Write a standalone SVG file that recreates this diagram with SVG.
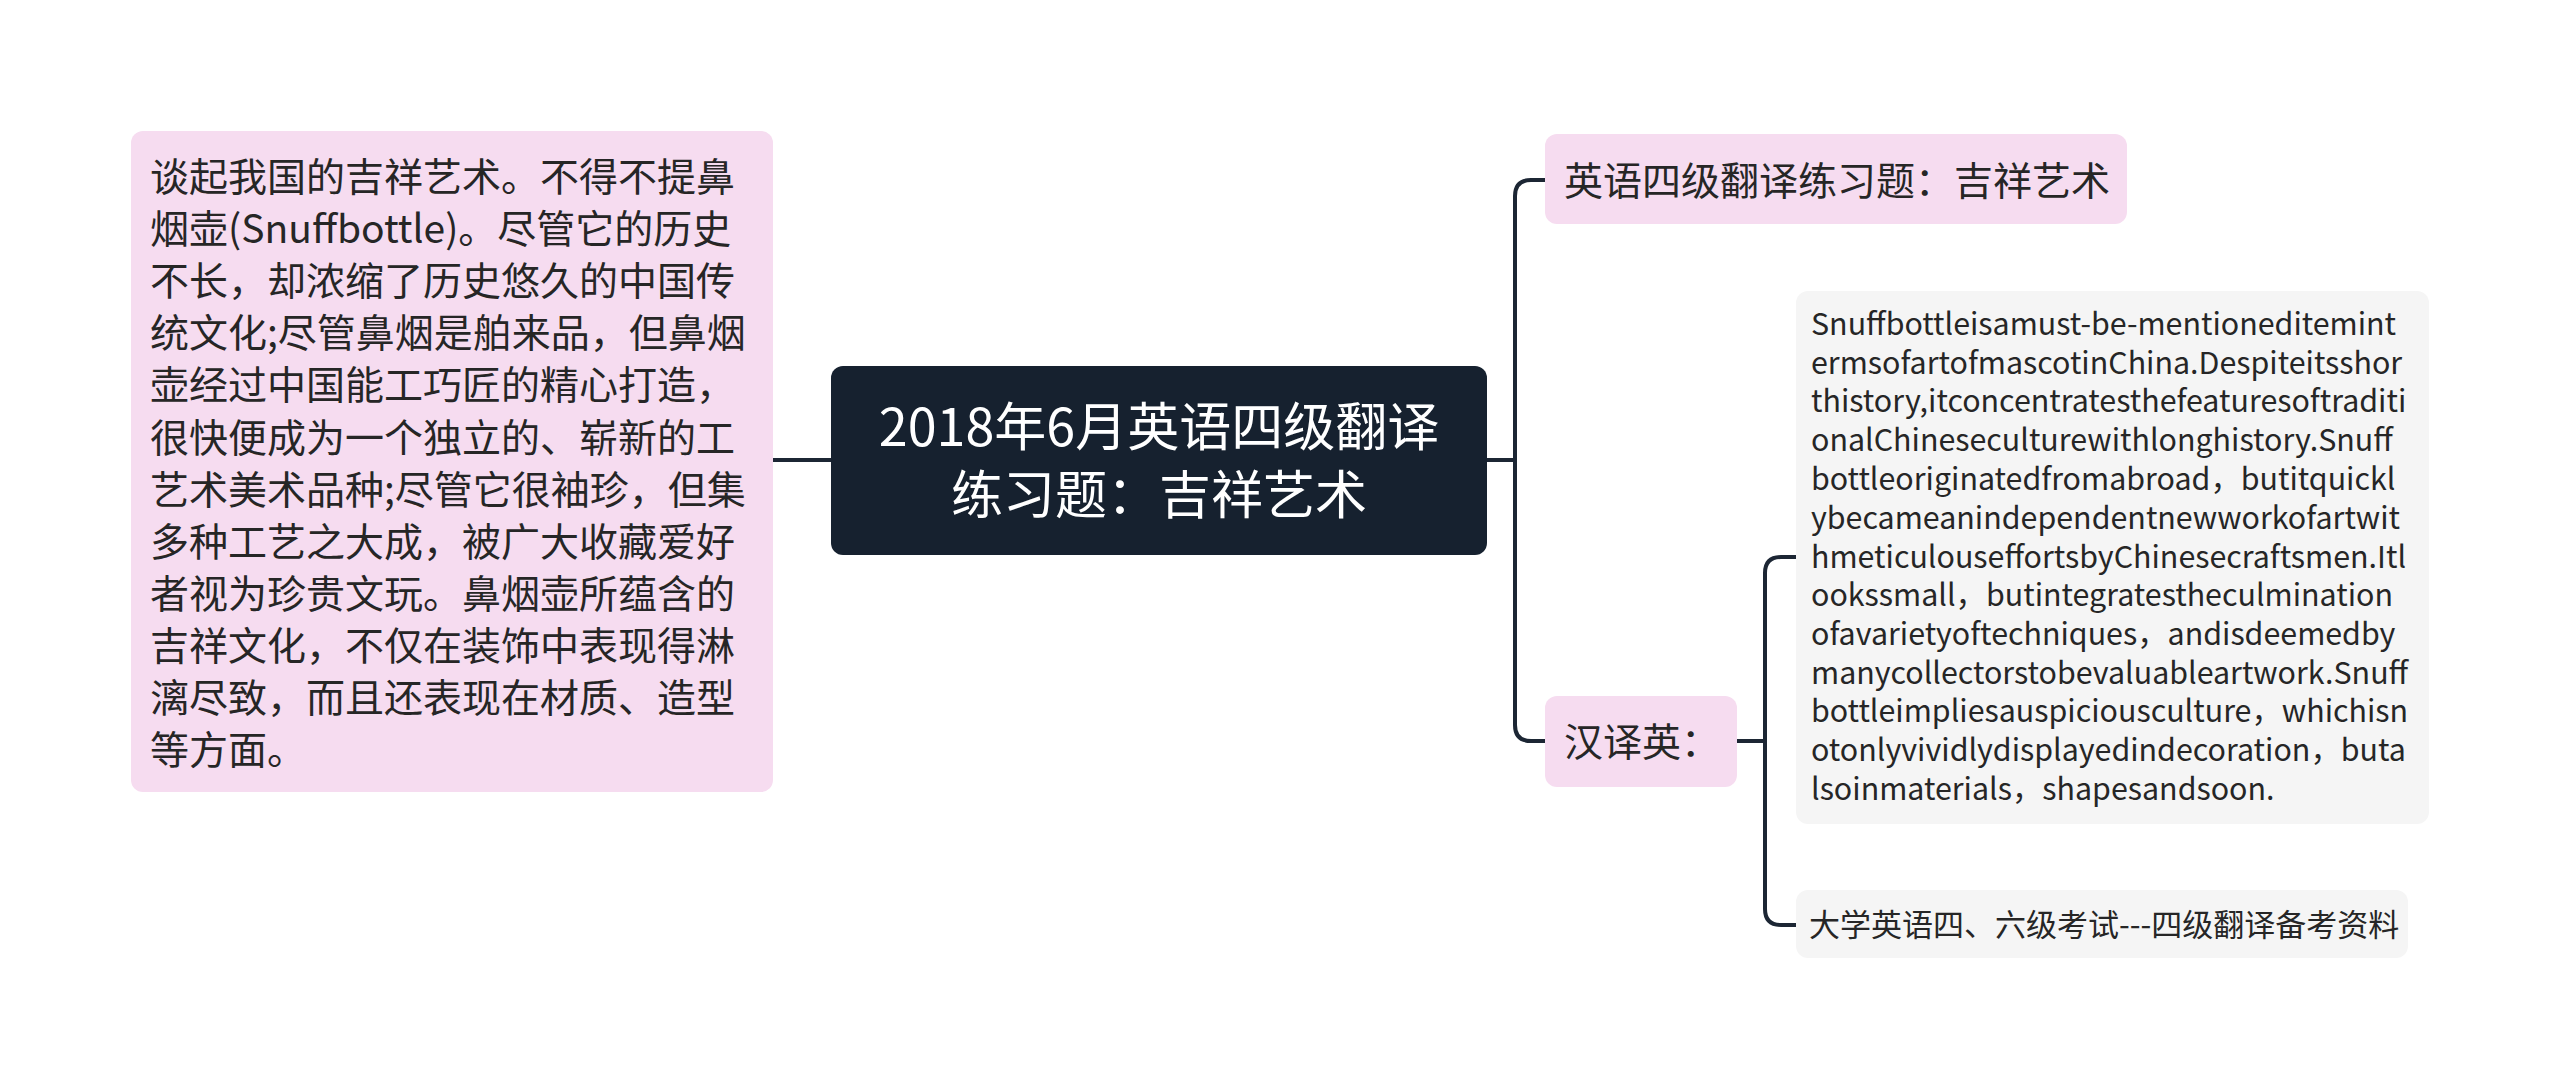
<svg xmlns="http://www.w3.org/2000/svg" width="2560" height="1090" viewBox="0 0 2560 1090">
<style>
.bg{fill:#ffffff}
.pink{fill:#f6dcf0}
.gray{fill:#f5f5f5}
.dark{fill:#16212f}
.t{font-family:"Noto Sans CJK SC","Noto Sans",sans-serif;fill:#262626}
.l1{font-size:39px}
.en{font-family:"Noto Sans CJK SC","Noto Sans",sans-serif;font-size:30.4px;fill:#262626}
.ct{font-family:"Noto Sans CJK SC","Noto Sans",sans-serif;font-size:52px;fill:#ffffff}
.c{fill:none;stroke:#1c2634;stroke-width:4;stroke-linecap:round}
</style>
<rect class="bg" x="0" y="0" width="2560" height="1090"/>
<g id="connectors">
<path class="c" d="M772 460 H831"/>
<path class="c" d="M1487 460 H1515"/>
<path class="c" d="M1545 180 H1531 Q1515 180 1515 196 V725 Q1515 741 1531 741 H1545"/>
<path class="c" d="M1737 741 H1765"/>
<path class="c" d="M1796 557 H1781 Q1765 557 1765 573 V909 Q1765 925 1781 925 H1796"/>
</g>
<g id="node-center">
<rect class="dark" x="831" y="366" width="656" height="189" rx="12"/>
<text class="ct" text-anchor="middle" x="1159" y="446">2018年6月英语四级翻译</text>
<text class="ct" text-anchor="middle" x="1159" y="514">练习题：吉祥艺术</text>
</g>
<g id="node-left">
<rect class="pink" x="131" y="131" width="642" height="661" rx="12"/>
<text class="t l1" x="150">
<tspan x="150" y="191">谈起我国的吉祥艺术。不得不提鼻</tspan>
<tspan x="150" y="243">烟壶(Snuffbottle)。尽管它的历史</tspan>
<tspan x="150" y="295">不长，却浓缩了历史悠久的中国传</tspan>
<tspan x="150" y="347">统文化;尽管鼻烟是舶来品，但鼻烟</tspan>
<tspan x="150" y="399">壶经过中国能工巧匠的精心打造，</tspan>
<tspan x="150" y="452">很快便成为一个独立的、崭新的工</tspan>
<tspan x="150" y="504">艺术美术品种;尽管它很袖珍，但集</tspan>
<tspan x="150" y="556">多种工艺之大成，被广大收藏爱好</tspan>
<tspan x="150" y="608">者视为珍贵文玩。鼻烟壶所蕴含的</tspan>
<tspan x="150" y="660">吉祥文化，不仅在装饰中表现得淋</tspan>
<tspan x="150" y="712">漓尽致，而且还表现在材质、造型</tspan>
<tspan x="150" y="764">等方面。</tspan>
</text>
</g>
<g id="node-title">
<rect class="pink" x="1545" y="134" width="582" height="90" rx="12"/>
<text class="t l1" x="1564" y="195">英语四级翻译练习题：吉祥艺术</text>
</g>
<g id="node-c2e">
<rect class="pink" x="1545" y="696" width="192" height="91" rx="12"/>
<text class="t l1" x="1564" y="756">汉译英：</text>
</g>
<g id="node-english">
<rect class="gray" x="1796" y="291" width="633" height="533" rx="12"/>
<text class="en">
<tspan x="1811" y="335">Snuffbottleisamust-be-mentioneditemint</tspan>
<tspan x="1811" y="374">ermsofartofmascotinChina.Despiteitsshor</tspan>
<tspan x="1811" y="412">thistory,itconcentratesthefeaturesoftraditi</tspan>
<tspan x="1811" y="451">onalChineseculturewithlonghistory.Snuff</tspan>
<tspan x="1811" y="490">bottleoriginatedfromabroad，butitquickl</tspan>
<tspan x="1811" y="529">ybecameanindependentnewworkofartwit</tspan>
<tspan x="1811" y="568">hmeticulouseffortsbyChinesecraftsmen.Itl</tspan>
<tspan x="1811" y="606">ookssmall，butintegratestheculmination</tspan>
<tspan x="1811" y="645">ofavarietyoftechniques，andisdeemedby</tspan>
<tspan x="1811" y="684">manycollectorstobevaluableartwork.Snuff</tspan>
<tspan x="1811" y="722">bottleimpliesauspiciousculture，whichisn</tspan>
<tspan x="1811" y="761">otonlyvividlydisplayedindecoration，buta</tspan>
<tspan x="1811" y="800">lsoinmaterials，shapesandsoon.</tspan>
</text>
</g>
<g id="node-ref">
<rect class="gray" x="1796" y="890" width="612" height="68" rx="12"/>
<text class="t" style="font-size:31px" x="1809" y="936">大学英语四、六级考试---四级翻译备考资料</text>
</g>
</svg>
